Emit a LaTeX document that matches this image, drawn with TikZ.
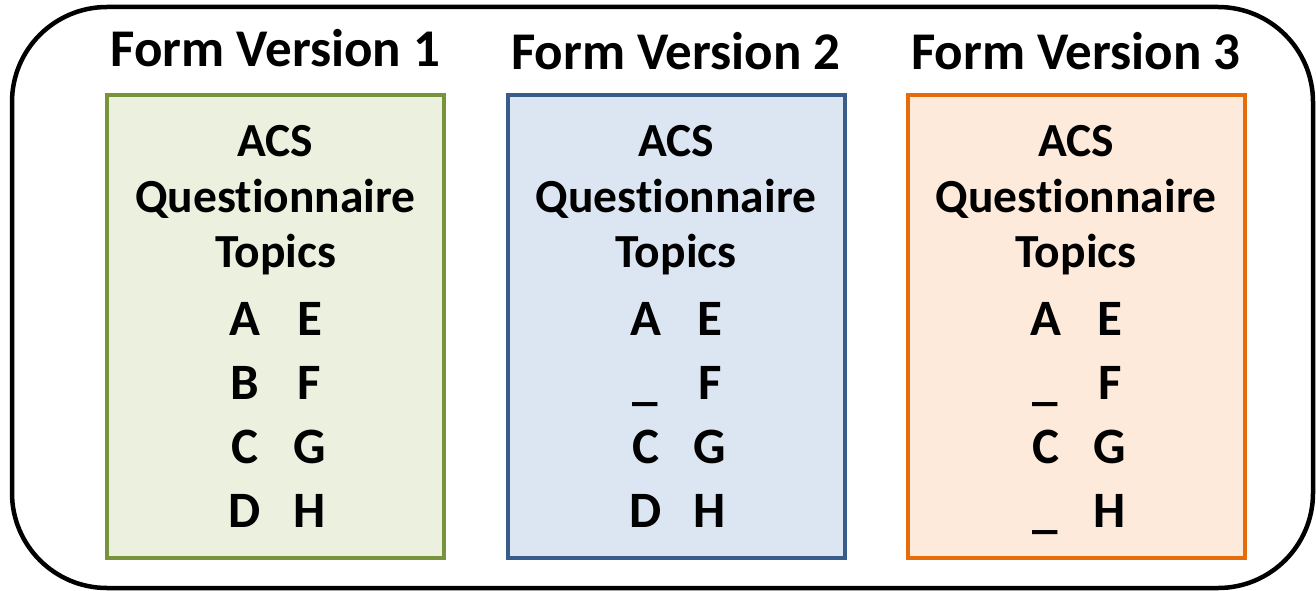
\documentclass[tikz,border=0pt]{standalone}
\usepackage{fontspec}
\setmainfont[Ligatures=NoCommon]{Carlito}
\definecolor{gdraw}{HTML}{77933C}\definecolor{gfill}{HTML}{EBF1DE}
\definecolor{bdraw}{HTML}{385D8A}\definecolor{bfill}{HTML}{DCE6F2}
\definecolor{odraw}{HTML}{E46C0A}\definecolor{ofill}{HTML}{FDEADA}
\tikzset{
  frame/.style={draw=black,line width=4.5pt,rounded corners=95pt},
  formbox/.style={draw=#1draw,fill=#1fill,line width=4pt,minimum width=337pt,minimum height=463pt,inner sep=0pt},
  title/.style={anchor=base,inner sep=0pt,font=\fontsize{53}{60}\selectfont\bfseries},
  head/.style={anchor=base,inner sep=0pt,font=\fontsize{47.5}{55}\selectfont\bfseries},
  letter/.style={anchor=base,inner sep=0pt,font=\fontsize{51}{60}\selectfont\bfseries}
}
\begin{document}
\begin{tikzpicture}[x=1pt,y=-1pt]
\useasboundingbox (0,0) rectangle (1316,591);
\draw[frame] (12,7) rectangle (1313,588);
\node[title] (t1) at (275.5,67) {Form Version 1};
\node[title] (t2) at (676,70) {Form Version 2};
\node[title] (t3) at (1076,70) {Form Version 3};
\foreach \n/\cx/\c/\l in {1/275.5/g/{A,B,C,D}, 2/676/b/{A,\_,C,D}, 3/1076/o/{A,\_,C,\_}}{
  \node[formbox=\c] (b\n) at (\cx,326.5) {};
  \node[head] (acs\n) at (\cx,157) {ACS};
  \node[head] (q\n) at (\cx,212) {Questionnaire};
  \node[head] (tp\n) at (\cx,267) {Topics};
  \foreach \x [count=\i] in \l {
    \pgfmathsetmacro{\yy}{335+64*(\i-1)}
    \node[letter] (l\n-\i) at (\cx-30.5,\yy) {\x};
  }
  \foreach \x/\yy [count=\i] in {E/335,F/399,G/463,H/527}{
    \node[letter] (r\n-\i) at (\cx+34,\yy) {\x};
  }
}
\end{tikzpicture}
\end{document}
